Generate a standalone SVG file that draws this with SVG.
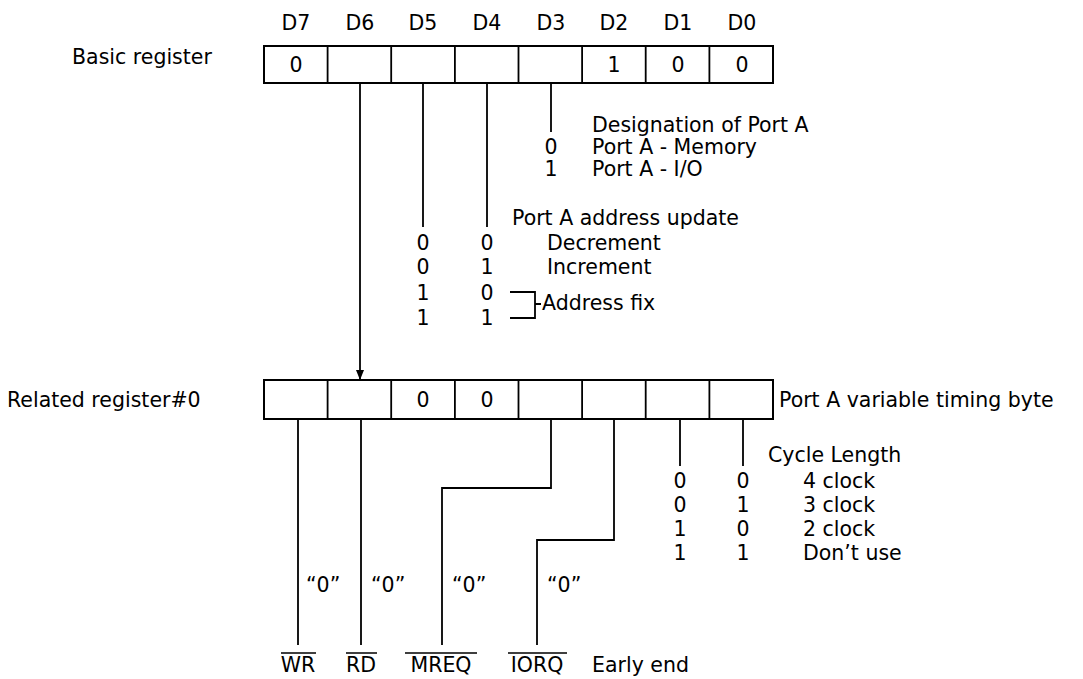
<svg xmlns="http://www.w3.org/2000/svg" width="1083" height="679" viewBox="0 0 1083 679">
<style>
text{font-family:"DejaVu Sans","Open Sans",sans-serif;font-size:20.5px;fill:#000}
.c{text-anchor:middle}
.box{fill:none;stroke:#000;stroke-width:2}
.ln{fill:none;stroke:#000;stroke-width:1.8}
.ov{stroke:#000;stroke-width:1.5}
</style>
<defs>
<marker id="arr" viewBox="0 0 10 16" refX="10" refY="8" markerWidth="10" markerHeight="16" markerUnits="userSpaceOnUse" orient="auto">
<path d="M0,4 L10,8 L0,12 Z" fill="#000"/>
</marker>
</defs>
<rect width="1083" height="679" fill="#fff"/>
<g id="bit-labels">
<text class="c" x="296" y="30">D7</text>
<text class="c" x="360" y="30">D6</text>
<text class="c" x="423" y="30">D5</text>
<text class="c" x="487" y="30">D4</text>
<text class="c" x="551" y="30">D3</text>
<text class="c" x="614" y="30">D2</text>
<text class="c" x="678" y="30">D1</text>
<text class="c" x="742" y="30">D0</text>
</g>
<g id="basic-register">
<text x="72" y="64">Basic register</text>
<rect class="box" x="264" y="46" width="509" height="37"/>
<path class="ln" d="M327.6,46V83M391.2,46V83M454.9,46V83M518.5,46V83M582.1,46V83M645.7,46V83M709.4,46V83"/>
<text class="c" x="296" y="72">0</text>
<text class="c" x="614" y="72">1</text>
<text class="c" x="678" y="72">0</text>
<text class="c" x="742" y="72">0</text>
</g>
<g id="port-a-designation">
<text x="592" y="132">Designation of Port A</text>
<text class="c" x="551" y="154">0</text>
<text x="592" y="154">Port A - Memory</text>
<text class="c" x="551" y="176">1</text>
<text x="592" y="176">Port A - I/O</text>
</g>
<g id="address-update">
<text x="512" y="225">Port A address update</text>
<text class="c" x="423" y="250">0</text><text class="c" x="487" y="250">0</text><text x="547" y="250">Decrement</text>
<text class="c" x="423" y="274">0</text><text class="c" x="487" y="274">1</text><text x="547" y="274">Increment</text>
<text class="c" x="423" y="300">1</text><text class="c" x="487" y="300">0</text>
<text class="c" x="423" y="325">1</text><text class="c" x="487" y="325">1</text>
<path class="ln" d="M510,292H535V318H510M535,304H541"/>
<text x="542" y="310">Address fix</text>
</g>
<g id="related-register">
<text x="7" y="407">Related register#0</text>
<rect class="box" x="264" y="380" width="509" height="39"/>
<path class="ln" d="M327.6,380V419M391.2,380V419M454.9,380V419M518.5,380V419M582.1,380V419M645.7,380V419M709.4,380V419"/>
<text class="c" x="423" y="407">0</text>
<text class="c" x="487" y="407">0</text>
<text x="779" y="407">Port A variable timing byte</text>
</g>
<g id="cycle-length">
<text x="768" y="462">Cycle Length</text>
<text class="c" x="680" y="488">0</text><text class="c" x="743" y="488">0</text><text x="803" y="488">4 clock</text>
<text class="c" x="680" y="512">0</text><text class="c" x="743" y="512">1</text><text x="803" y="512">3 clock</text>
<text class="c" x="680" y="536">1</text><text class="c" x="743" y="536">0</text><text x="803" y="536">2 clock</text>
<text class="c" x="680" y="560">1</text><text class="c" x="743" y="560">1</text><text x="803" y="560">Don’t use</text>
</g>
<g id="signals">
<text x="306" y="592">“0”</text>
<text x="371" y="592">“0”</text>
<text x="452" y="592">“0”</text>
<text x="547" y="592">“0”</text>
<text class="c" x="298" y="672">WR</text>
<text class="c" x="361" y="672">RD</text>
<text class="c" x="441" y="672">MREQ</text>
<text class="c" x="537" y="672">IORQ</text>
<text x="592" y="672">Early end</text>
<path class="ov" d="M281,653H316M346,653H377M405,653H477M508,653H567"/>
</g>
<g id="connectors">
<path class="ln" d="M360,83V380" marker-end="url(#arr)"/>
<path class="ln" d="M423,83V227M487,83V227M551,83V132"/>
<path class="ln" d="M298,419V645M361,419V645M551,419V488H442V645M614,419V540H537V645M680,419V466M743,419V466"/>
</g>
</svg>
